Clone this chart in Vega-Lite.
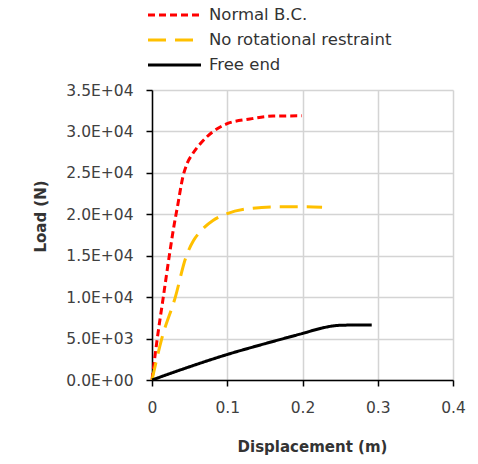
{
  "$schema": "https://vega.github.io/schema/vega-lite/v6.json",
  "width": 301,
  "height": 290,
  "autosize": {"type": "none"},
  "padding": {"left": 152, "top": 90, "right": 25, "bottom": 84},
  "background": "white",
  "config": {
    "view": {"stroke": null},
    "font": "DejaVu Sans"
  },
  "data": {
    "values": [
      {"series": "Normal B.C.", "x": 0, "y": 0},
      {"series": "Normal B.C.", "x": 0.007, "y": 5000},
      {"series": "Normal B.C.", "x": 0.015, "y": 10000},
      {"series": "Normal B.C.", "x": 0.023, "y": 15000},
      {"series": "Normal B.C.", "x": 0.029, "y": 18500},
      {"series": "Normal B.C.", "x": 0.034, "y": 21000},
      {"series": "Normal B.C.", "x": 0.041, "y": 24500},
      {"series": "Normal B.C.", "x": 0.047, "y": 26200},
      {"series": "Normal B.C.", "x": 0.054, "y": 27300},
      {"series": "Normal B.C.", "x": 0.065, "y": 28600},
      {"series": "Normal B.C.", "x": 0.08, "y": 29900},
      {"series": "Normal B.C.", "x": 0.099, "y": 30900},
      {"series": "Normal B.C.", "x": 0.13, "y": 31500},
      {"series": "Normal B.C.", "x": 0.161, "y": 31850},
      {"series": "Normal B.C.", "x": 0.199, "y": 31880},
      {"series": "No rotational restraint", "x": 0, "y": 0},
      {"series": "No rotational restraint", "x": 0.013, "y": 5000},
      {"series": "No rotational restraint", "x": 0.031, "y": 10000},
      {"series": "No rotational restraint", "x": 0.045, "y": 14800},
      {"series": "No rotational restraint", "x": 0.055, "y": 16800},
      {"series": "No rotational restraint", "x": 0.064, "y": 17900},
      {"series": "No rotational restraint", "x": 0.081, "y": 19250},
      {"series": "No rotational restraint", "x": 0.099, "y": 20050},
      {"series": "No rotational restraint", "x": 0.13, "y": 20700},
      {"series": "No rotational restraint", "x": 0.17, "y": 20900},
      {"series": "No rotational restraint", "x": 0.2, "y": 20900},
      {"series": "No rotational restraint", "x": 0.226, "y": 20840},
      {"series": "Free end", "x": 0, "y": 0},
      {"series": "Free end", "x": 0.05, "y": 1600},
      {"series": "Free end", "x": 0.1, "y": 3080},
      {"series": "Free end", "x": 0.15, "y": 4380},
      {"series": "Free end", "x": 0.2, "y": 5620},
      {"series": "Free end", "x": 0.225, "y": 6250},
      {"series": "Free end", "x": 0.24, "y": 6520},
      {"series": "Free end", "x": 0.255, "y": 6620},
      {"series": "Free end", "x": 0.292, "y": 6640}
    ]
  },
  "mark": {"type": "line", "interpolate": "monotone", "strokeWidth": 3, "clip": false},
  "encoding": {
    "x": {
      "field": "x",
      "type": "quantitative",
      "scale": {"domain": [0, 0.4], "nice": false, "zero": false},
      "axis": {
        "values": [0, 0.1, 0.2, 0.3, 0.4],
        "format": ".1~f",
        "labelFlush": false,
        "title": "Displacement (m)",
        "titleFont": "DejaVu Sans",
        "titleFontSize": 15,
        "titleFontWeight": "bold",
        "titleColor": "#333333",
        "titlePadding": 24,
        "titleX": 160,
        "labelFont": "DejaVu Sans",
        "labelFontSize": 15.5,
        "labelColor": "#404040",
        "labelPadding": 14,
        "tickSize": 6,
        "tickColor": "#000000",
        "tickWidth": 1.5,
        "domainColor": "#000000",
        "domainWidth": 1.5,
        "gridColor": "#d4d4d4",
        "gridWidth": 1.5
      }
    },
    "y": {
      "field": "y",
      "type": "quantitative",
      "scale": {"domain": [0, 35000], "nice": false},
      "axis": {
        "values": [0, 5000, 10000, 15000, 20000, 25000, 30000, 35000],
        "labelExpr": "datum.value == 0 ? '0.0E+00' : format(datum.value / pow(10, floor(log(datum.value) / LN10 + 1e-9)), '.1f') + 'E+0' + floor(log(datum.value) / LN10 + 1e-9)",
        "title": "Load (N)",
        "titleFont": "DejaVu Sans",
        "titleFontSize": 15,
        "titleFontWeight": "bold",
        "titleColor": "#333333",
        "titlePadding": 17,
        "titleY": 126,
        "labelFont": "DejaVu Sans",
        "labelFontSize": 15.5,
        "labelColor": "#404040",
        "labelPadding": 13,
        "tickSize": 6,
        "tickColor": "#000000",
        "tickWidth": 1.5,
        "domainColor": "#000000",
        "domainWidth": 1.5,
        "gridColor": "#d4d4d4",
        "gridWidth": 1.5
      }
    },
    "color": {
      "field": "series",
      "type": "nominal",
      "scale": {
        "domain": ["Normal B.C.", "No rotational restraint", "Free end"],
        "range": ["#ff0000", "#ffc000", "#000000"]
      },
      "legend": {
        "title": null,
        "orient": "none",
        "legendX": 7.5,
        "legendY": -90,
        "symbolType": "M-2,0H2",
        "symbolSize": 702,
        "symbolStrokeWidth": 3,
        "labelFont": "DejaVu Sans",
        "labelFontSize": 16.5,
        "labelColor": "#333333",
        "labelOffset": 19.5,
        "rowPadding": 1,
        "padding": 0,
        "labelLimit": 400
      }
    },
    "strokeDash": {
      "field": "series",
      "type": "nominal",
      "scale": {
        "domain": ["Normal B.C.", "No rotational restraint", "Free end"],
        "range": [[7, 4], [18, 9], [1, 0]]
      },
      "legend": {
        "title": null,
        "orient": "none",
        "legendX": 7.5,
        "legendY": -90,
        "symbolType": "M-2,0H2",
        "symbolSize": 702,
        "symbolStrokeWidth": 3,
        "labelFont": "DejaVu Sans",
        "labelFontSize": 16.5,
        "labelColor": "#333333",
        "labelOffset": 19.5,
        "rowPadding": 1,
        "padding": 0,
        "labelLimit": 400
      }
    }
  }
}
